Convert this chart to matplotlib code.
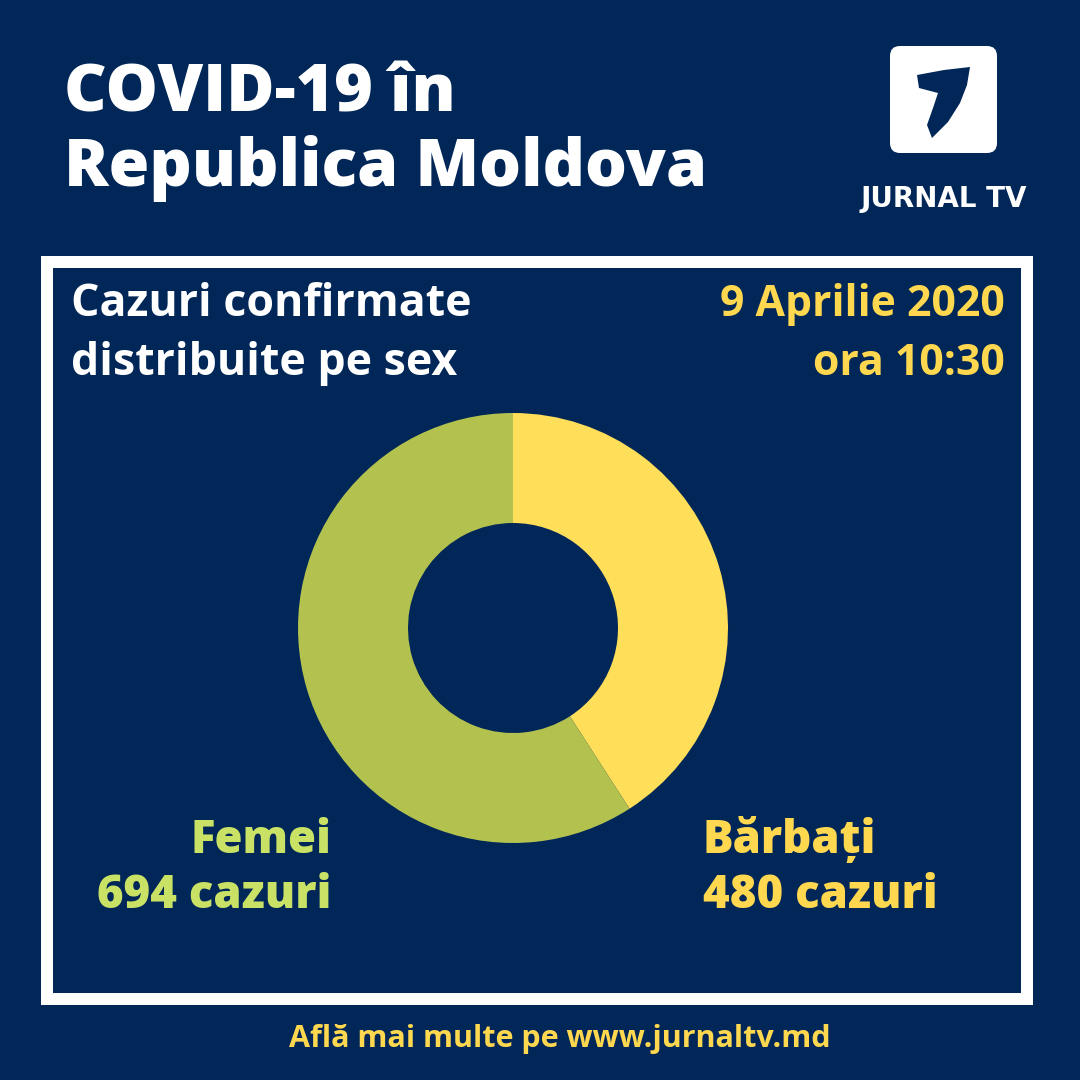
import matplotlib
matplotlib.use("Agg")
import matplotlib.pyplot as plt
from matplotlib.patches import Rectangle, FancyBboxPatch, Polygon

plt.rcParams['font.family'] = ['Open Sans', 'DejaVu Sans']

# Data
categories = ['Bărbați', 'Femei']
values = [480, 694]
value_labels = ['480 cazuri', '694 cazuri']

NAVY = '#012658'
YELLOW = '#FFDE59'
GREEN = '#B3C24F'
GREEN_TXT = '#C9E265'
YELLOW_TXT = '#FFD84F'

W = H = 1080
fig = plt.figure(figsize=(10.8, 10.8), dpi=100)
fig.patch.set_facecolor(NAVY)
ax = fig.add_axes([0, 0, 1, 1])
ax.set_facecolor(NAVY)

def Y(y):
    return H - y

# Donut
ax.pie(values, colors=[YELLOW, GREEN], startangle=90, counterclock=False,
       center=(513, Y(628)), radius=215,
       wedgeprops=dict(width=110, edgecolor='none', linewidth=0))
ax.set_xlim(0, W)
ax.set_ylim(0, H)
ax.set_aspect('equal')
ax.axis('off')

# White frame box
ax.add_patch(Rectangle((47, Y(999)), 980, 737, fill=False, edgecolor='white', linewidth=12 * 72 / 100))

# Title
ax.text(64, Y(112), 'COVID-19 în', color='white', fontsize=47.5, fontweight='heavy', ha='left', va='baseline')
ax.text(64, Y(186), 'Republica Moldova', color='white', fontsize=47.5, fontweight='heavy', ha='left', va='baseline')

# Subtitle
ax.text(71, Y(316), 'Cazuri confirmate', color='white', fontsize=32.2, fontweight='bold', ha='left', va='baseline')
ax.text(71, Y(375), 'distribuite pe sex', color='white', fontsize=32.2, fontweight='bold', ha='left', va='baseline')

# Date
ax.text(1005, Y(316), '9 Aprilie 2020', color=YELLOW_TXT, fontsize=30.8, fontweight='bold', ha='right', va='baseline')
ax.text(1005, Y(375), 'ora 10:30', color=YELLOW_TXT, fontsize=30.8, fontweight='bold', ha='right', va='baseline')

# Labels
ax.text(331, Y(853), categories[1], color=GREEN_TXT, fontsize=32.8, fontweight='heavy', ha='right', va='baseline')
ax.text(331, Y(908), value_labels[1], color=GREEN_TXT, fontsize=32.8, fontweight='heavy', ha='right', va='baseline')
ax.text(703, Y(853), categories[0], color=YELLOW_TXT, fontsize=32.8, fontweight='heavy', ha='left', va='baseline')
ax.text(703, Y(908), value_labels[0], color=YELLOW_TXT, fontsize=32.8, fontweight='heavy', ha='left', va='baseline')

# Footer
ax.text(560, Y(1047), 'Află mai multe pe www.jurnaltv.md', color=YELLOW_TXT, fontsize=22, fontweight='bold', ha='center', va='baseline')

# Logo
ax.add_patch(FancyBboxPatch((896, Y(147)), 95, 95, boxstyle='round,pad=6,rounding_size=10',
                            facecolor='white', edgecolor='none'))
seven = [(917, 75), (944, 70), (970, 67), (967, 85), (960, 103), (948, 122), (932, 138),
         (927, 125), (933, 108), (938, 93), (919, 88)]
ax.add_patch(Polygon([(x, Y(y)) for x, y in seven], closed=True, facecolor=NAVY, edgecolor='none'))
ax.text(944, Y(207), 'JURNAL TV', color='white', family='DejaVu Sans',
        fontsize=20, fontweight='bold', ha='center', va='baseline')

fig.savefig('out.png', dpi=100, facecolor=NAVY)
